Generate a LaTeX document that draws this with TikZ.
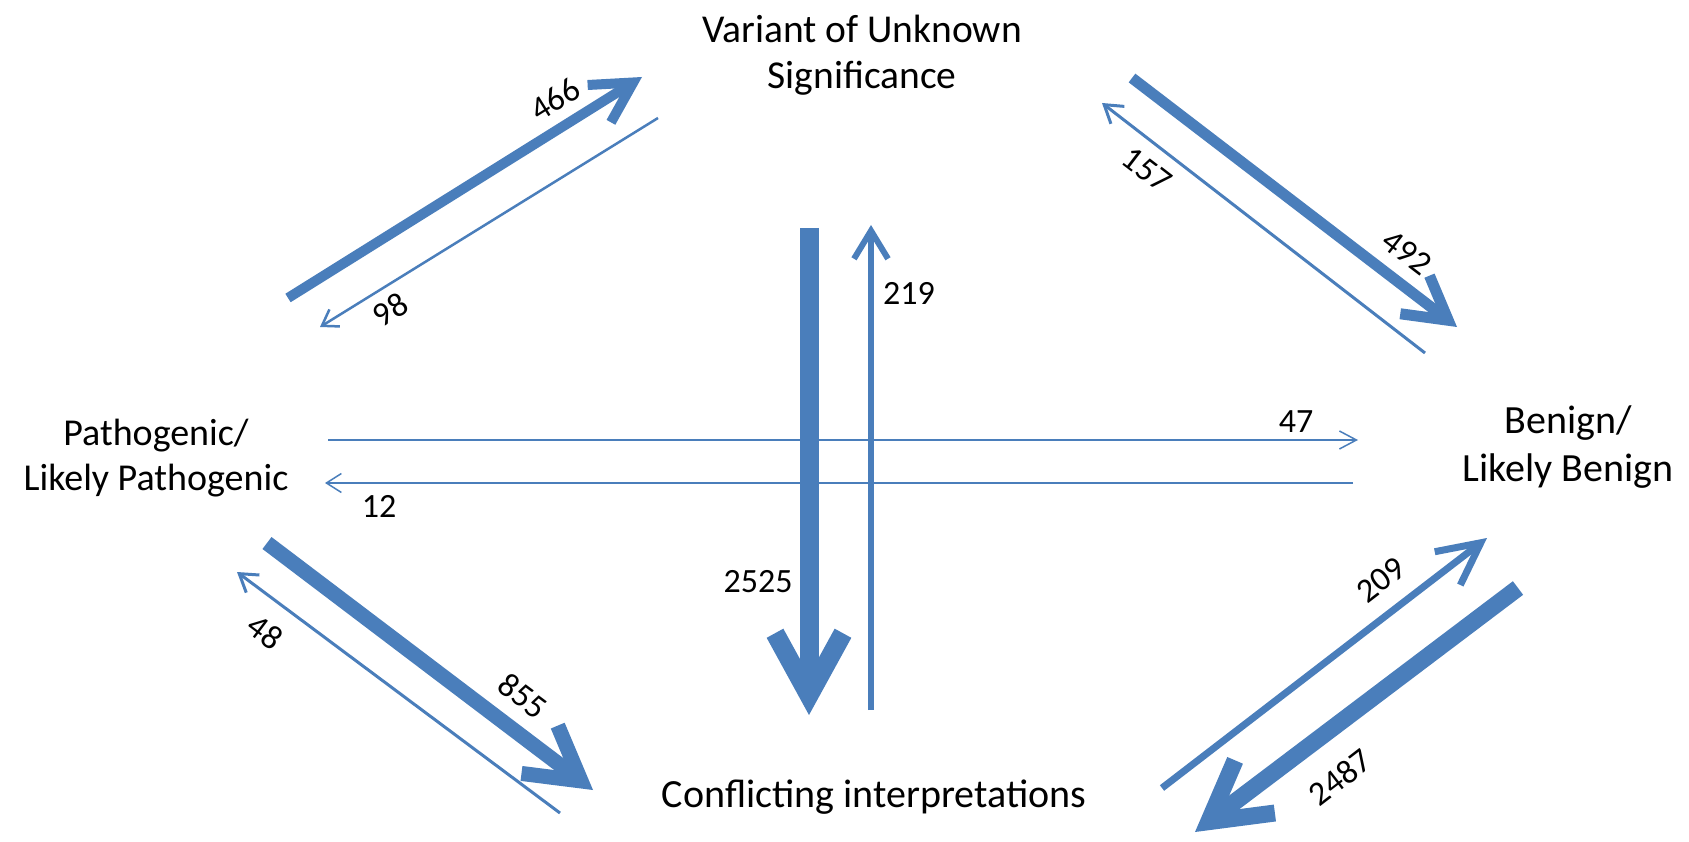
\documentclass[tikz,border=0pt]{standalone}
\usepackage{fontspec}
\setmainfont{Carlito}
\usetikzlibrary{arrows.meta}
\definecolor{flowblue}{RGB}{74,126,187}
\tikzset{
  flow/.style={draw=flowblue, line width=#1},
  statebox/.style={align=center, font=\fontsize{39.5}{46}\selectfont, inner sep=0pt},
  countlbl/.style={font=\fontsize{34}{36}\selectfont, inner sep=0pt},
}
\begin{document}
\begin{tikzpicture}[x=1pt,y=-1pt]
\useasboundingbox (0,0) rectangle (1689,842);
% states
\node[statebox] (vus) at (862,55) {Variant of Unknown\\Significance};
\node[statebox, font=\fontsize{38}{45}\selectfont] (plp) at (156,458) {Pathogenic/\\Likely Pathogenic};
\node[statebox, font=\fontsize{40}{48}\selectfont] (blb) at (1568,447) {Benign/\\Likely Benign};
\node[statebox, font=\fontsize{40}{46}\selectfont] (con) at (874,797) {Conflicting interpretations};
% arrow end points
\coordinate (a1s) at (288,298);  \coordinate (a1e) at (642,77);
\coordinate (a2s) at (658,118);  \coordinate (a2e) at (320,327);
\coordinate (a3s) at (1132,78);  \coordinate (a3e) at (1457,327);
\coordinate (a4s) at (1425,353); \coordinate (a4e) at (1102,103);
\coordinate (a5s) at (267,543);  \coordinate (a5e) at (593,790);
\coordinate (a6s) at (560,813);  \coordinate (a6e) at (237,572);
\coordinate (a7s) at (1162,788); \coordinate (a7e) at (1487,538);
\coordinate (a8s) at (1518,588); \coordinate (a8e) at (1195,832);
\coordinate (a9s) at (809,228);  \coordinate (a9e) at (809,715);
\coordinate (a10s) at (871,710); \coordinate (a10e) at (871,225);
\coordinate (a11s) at (328,440); \coordinate (a11e) at (1358,440);
\coordinate (a12s) at (1353,483);\coordinate (a12e) at (325,483);
% arrows
\draw[flow=10, -{Straight Barb[length=40pt,width=44pt]}] (a1s) -- (a1e);
\draw[flow=2.5, -{Straight Barb[length=15pt,width=20pt]}] (a2s) -- (a2e);
\draw[flow=11, -{Straight Barb[length=42pt,width=48pt]}] (a3s) -- (a3e);
\draw[flow=3, -{Straight Barb[length=17pt,width=22pt]}] (a4s) -- (a4e);
\draw[flow=15, -{Straight Barb[length=52pt,width=60pt]}] (a5s) -- (a5e);
\draw[flow=3, -{Straight Barb[length=17pt,width=22pt]}] (a6s) -- (a6e);
\draw[flow=7, -{Straight Barb[length=42pt,width=42pt]}] (a7s) -- (a7e);
\draw[flow=17, -{Straight Barb[length=58pt,width=66pt]}] (a8s) -- (a8e);
\draw[flow=19, -{Straight Barb[length=62pt,width=68pt]}] (a9s) -- (a9e);
\draw[flow=6, -{Straight Barb[length=28pt,width=34pt]}] (a10s) -- (a10e);
\draw[flow=1.5, -{Straight Barb[length=17pt,width=18pt]}] (a11s) -- (a11e);
\draw[flow=1.5, -{Straight Barb[length=15pt,width=19pt]}] (a12s) -- (a12e);
% counts
\node[countlbl, rotate=32] (l466) at (555,99) {466};
\node[countlbl, rotate=32] (l98) at (390,310) {98};
\node[countlbl, rotate=-37.5] (l492) at (1407,252) {492};
\node[countlbl, rotate=-37.5] (l157) at (1147,170) {157};
\node[countlbl, rotate=-37] (l855) at (523,696) {855};
\node[countlbl, rotate=-37] (l48) at (265,632) {48};
\node[countlbl, rotate=37.6] (l209) at (1381,580) {209};
\node[countlbl, rotate=37.6] (l2487) at (1340,777) {2487};
\node[countlbl] (l219) at (909,293) {219};
\node[countlbl] (l2525) at (758,582) {2525};
\node[countlbl] (l47) at (1296,422) {47};
\node[countlbl] (l12) at (379,506) {12};
\end{tikzpicture}
\end{document}
